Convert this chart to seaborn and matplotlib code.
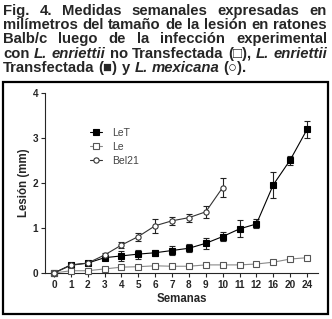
import numpy as np
import pandas as pd
import matplotlib
matplotlib.use("Agg")
import matplotlib.pyplot as plt
from matplotlib.transforms import IdentityTransform
from matplotlib.patches import Rectangle
import seaborn as sns

# --- Data ---
weeks = ["0", "1", "2", "3", "4", "5", "6", "7", "8", "9", "10", "11", "12", "16", "20", "24"]

let_mean = [0, 0.18, 0.22, 0.34, 0.38, 0.42, 0.45, 0.50, 0.55, 0.66, 0.81, 0.98, 1.09, 1.96, 2.51, 3.19]
let_err = [0, 0.02, 0.03, 0.05, 0.12, 0.10, 0.07, 0.09, 0.09, 0.12, 0.10, 0.19, 0.10, 0.29, 0.10, 0.19]

le_mean = [0, 0.05, 0.05, 0.09, 0.13, 0.14, 0.16, 0.15, 0.15, 0.18, 0.18, 0.18, 0.20, 0.24, 0.31, 0.34]
le_err = [0, 0.01, 0.01, 0.01, 0.02, 0.02, 0.02, 0.02, 0.02, 0.02, 0.02, 0.02, 0.02, 0.02, 0.02, 0.02]

bel_mean = [0, 0.17, 0.22, 0.40, 0.62, 0.81, 1.05, 1.16, 1.23, 1.36, 1.90]
bel_err = [0, 0.02, 0.02, 0.04, 0.07, 0.09, 0.15, 0.09, 0.09, 0.14, 0.21]

caption = [
    "Fig. 4. Medidas semanales expresadas en",
    "milímetros del tamaño de la lesión en ratones",
    "Balb/c luego de la infección experimental",
    "con _L._ _enriettii_ no Transfectada (□), _L._ _enriettii_",
    "Transfectada (■) y _L._ _mexicana_ (○).",
]

# --- Style ---
sns.set_theme(style="ticks")
plt.rcParams["font.family"] = ["Liberation Sans", "DejaVu Sans"]
cap_family = ["Liberation Sans", "DejaVu Sans"]

W_PX, H_PX = 332, 319
fig = plt.figure(figsize=(W_PX / 100, H_PX / 100), dpi=100)
fig.patch.set_facecolor("white")

# box around the plot
fig.add_artist(Rectangle((3 / W_PX, 5 / H_PX), 325 / W_PX, 232 / H_PX,
                         transform=fig.transFigure, fill=False,
                         edgecolor="black", linewidth=1.6))

ax = fig.add_axes([45 / W_PX, 46 / H_PX, 273 / W_PX, 180 / H_PX])

x_pos = np.arange(len(weeks))
series = [
    dict(name="LeT", y=let_mean, err=let_err, marker="s", ms=4.5,
         mfc="black", mec="black", color="black"),
    dict(name="Le", y=le_mean, err=le_err, marker="s", ms=4.3,
         mfc="white", mec="#555555", color="#8a8a8a"),
    dict(name="Bel21", y=bel_mean, err=bel_err, marker="o", ms=3.8,
         mfc="white", mec="#333333", color="#333333"),
]

for s in series:
    n = len(s["y"])
    d = pd.DataFrame({"pos": x_pos[:n], "lesion": s["y"]})
    ax.errorbar(d["pos"], d["lesion"], yerr=s["err"], fmt="none",
                ecolor="#222222", elinewidth=0.8, capsize=2, capthick=0.8,
                zorder=2, clip_on=False)
    sns.lineplot(data=d, x="pos", y="lesion", ax=ax, label=s["name"],
                 color=s["color"], linewidth=0.8, marker=s["marker"],
                 markersize=s["ms"], markerfacecolor=s["mfc"],
                 markeredgecolor=s["mec"], markeredgewidth=0.8,
                 clip_on=False, zorder=3)

ax.set_xlim(-0.53, 15.65)
ax.set_ylim(0, 4)
ax.set_xticks(x_pos, weeks)
ax.set_yticks(range(5))
ax.tick_params(direction="out", length=3, width=0.8, pad=2, labelsize=7.2)
for lab in ax.get_xticklabels() + ax.get_yticklabels():
    lab.set_fontweight("bold")
for sp in ["left", "bottom"]:
    ax.spines[sp].set_linewidth(0.8)
sns.despine(ax=ax)

ax.set_xlabel("Semanas", fontsize=8.3, fontweight="bold", labelpad=2)
ax.set_ylabel("Lesión (mm)", fontsize=8.3, fontweight="bold", labelpad=1.5)

leg = ax.legend(loc="upper left", bbox_to_anchor=(0.147, 0.837), frameon=False,
                fontsize=7.5, handlelength=1.15, handletextpad=0.9,
                labelspacing=0.4, borderpad=0)
for t in leg.get_texts():
    t.set_color("#444444")

# --- Caption, justified word by word ---
renderer = fig.canvas.get_renderer()


def text_width(s, size, style):
    t = fig.text(0, 0, s, fontsize=size, fontweight="bold", fontstyle=style,
                 family=cap_family)
    w = t.get_window_extent(renderer).width
    t.remove()
    return w


def split_words(line):
    out = []
    for w in line.split():
        if w.startswith("_") and w.endswith("_"):
            out.append((w.strip("_"), "italic"))
        else:
            out.append((w, "normal"))
    return out


left, right = 3, 327
box_w = right - left
ref = 10
space_ref = text_width("a a", ref, "normal") - text_width("aa", ref, "normal")
natural = max(sum(text_width(w, ref, st) for w, st in split_words(l))
              + space_ref * (len(l.split()) - 1) for l in caption)
fs = ref * box_w / natural
space = space_ref * fs / ref

baselines = [14.7, 29, 43.3, 57.6, 72]
for i, line in enumerate(caption):
    words = split_words(line)
    widths = [text_width(w, fs, st) for w, st in words]
    if i < len(caption) - 1:
        gap = (box_w - sum(widths)) / (len(words) - 1)
    else:
        gap = space
    x = left
    for (w, st), wd in zip(words, widths):
        fig.text(x, H_PX - baselines[i], w, fontsize=fs, fontweight="bold",
                 fontstyle=st, va="baseline", ha="left", family=cap_family,
                 transform=IdentityTransform())
        x += wd + gap

fig.savefig("out.png", dpi=100)
